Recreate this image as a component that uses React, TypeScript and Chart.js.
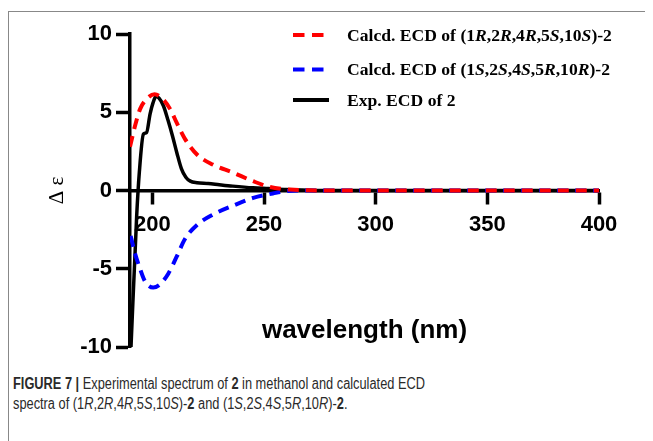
import React, { useEffect, useRef } from "react";
import { Chart, registerables } from "chart.js";

Chart.register(...registerables);

// ---- Data ----
const calcRWavelength = [190, 192.2, 194.5, 197.5, 201, 205, 208, 211, 214.6, 220, 227, 236, 245, 252.7, 261.6, 270, 280, 400];
const calcRValues = [2.8, 4.1, 5.2, 5.85, 6.15, 5.8, 5.2, 4.3, 3.3, 2.3, 1.66, 1.15, 0.6, 0.22, 0.06, 0.01, 0, 0];

const calcSWavelength = [190.3, 192.2, 194.5, 196.7, 200.4, 203.4, 207.2, 211, 214.6, 220, 227.3, 236.3, 245.2, 254, 260, 270, 400];
const calcSValues = [-2.9, -4.0, -5.0, -5.8, -6.2, -6.0, -5.3, -4.2, -3.1, -2.2, -1.53, -0.96, -0.47, -0.19, -0.04, 0, 0];

const expWavelength = [190.45, 193.0, 194.2, 196.0, 197.4, 199.0, 200.3, 201.6, 203, 205, 207, 209, 211, 213, 215, 217, 220, 225, 230, 236, 245, 252, 260, 270, 280, 400];
const expValues = [-10, -1.6, 1.2, 3.6, 3.7, 4.9, 5.6, 6.0, 5.9, 5.4, 4.5, 3.5, 2.4, 1.4, 0.85, 0.6, 0.5, 0.45, 0.37, 0.28, 0.17, 0.12, 0.06, 0.02, 0, 0];

const xTickValues = [200, 250, 300, 350, 400];
const yTickValues = [-10, -5, 0, 5, 10];

const legendLabels = [
  [["Calcd. ECD of (1", false], ["R", true], [",2", false], ["R", true], [",4", false], ["R", true], [",5", false], ["S", true], [",10", false], ["S", true], [")-2", false]],
  [["Calcd. ECD of (1", false], ["S", true], [",2", false], ["S", true], [",4", false], ["S", true], [",5", false], ["R", true], [",10", false], ["R", true], [")-2", false]],
  [["Exp. ECD of 2", false]],
] as [string, boolean][][];

const seriesColors = ["#ff0000", "#0000ff", "#000000"];
const seriesDashed = [true, true, false];

const toPoints = (xs: number[], ys: number[]) => xs.map((x, i) => ({ x, y: ys[i] }));

const SANS = "'Liberation Sans', Arial, Helvetica, sans-serif";
const SERIF = "'Liberation Serif', 'Times New Roman', Times, serif";

const overlayPlugin = {
  id: "overlay",
  afterDraw(chart: any) {
    const ctx = chart.ctx as CanvasRenderingContext2D;
    const area = chart.chartArea;
    ctx.save();
    // x axis title
    ctx.fillStyle = "#000";
    ctx.font = `bold 26px ${SANS}`;
    ctx.textAlign = "center";
    ctx.textBaseline = "middle";
    ctx.fillText("wavelength (nm)", (area.left + area.right) / 2, 323);

    // legend
    const rowY = [27, 61.5, 92];
    const lineX0 = 285;
    const lineX1 = 321;
    const textX = 339;
    legendLabels.forEach((segs, i) => {
      const y = rowY[i];
      ctx.beginPath();
      ctx.strokeStyle = seriesColors[i];
      ctx.lineWidth = 4;
      ctx.lineCap = "butt";
      ctx.setLineDash(seriesDashed[i] ? [11.5, 7.5] : []);
      ctx.moveTo(lineX0, y);
      ctx.lineTo(lineX1, y);
      ctx.stroke();
      ctx.setLineDash([]);
      let x = textX;
      ctx.textAlign = "left";
      ctx.textBaseline = "middle";
      ctx.fillStyle = "#000";
      segs.forEach(([t, it]) => {
        ctx.font = `${it ? "italic " : ""}bold 17.6px ${SERIF}`;
        ctx.fillText(t, x, y + 1);
        x += ctx.measureText(t).width;
      });
    });
    ctx.restore();
  },
};

export default function App() {
  const ref = useRef<HTMLCanvasElement>(null);

  useEffect(() => {
    document.body.style.overflow = "hidden";
    const canvas = ref.current!;
    const datasets = [
      { data: toPoints(calcRWavelength, calcRValues), borderDash: [11, 7], borderWidth: 4, order: 0 },
      { data: toPoints(calcSWavelength, calcSValues), borderDash: [11, 7], borderWidth: 4, order: 1 },
      { data: toPoints(expWavelength, expValues), borderDash: [], borderWidth: 3.5, order: 2 },
    ].map((d, i) => ({
      ...d,
      label: legendLabels[i].map((s) => s[0]).join(""),
      borderColor: seriesColors[i],
      backgroundColor: seriesColors[i],
      pointRadius: 0,
      fill: false,
      cubicInterpolationMode: "monotone" as const,
    }));

    const chart = new Chart(canvas, {
      type: "line",
      data: { datasets },
      options: {
        animation: false,
        responsive: false,
        devicePixelRatio: 1,
        layout: { padding: { left: 0, top: 26, right: 54, bottom: 26 } },
        plugins: { legend: { display: false }, tooltip: { enabled: false } },
        scales: {
          x: {
            type: "linear",
            position: { y: 0 } as any,
            min: 190,
            max: 400,
            afterBuildTicks: (s: any) => {
              s.ticks = xTickValues.map((v) => ({ value: v }));
            },
            grid: { drawOnChartArea: false, drawTicks: true, tickLength: 12, tickWidth: 3.5, tickColor: "#000" },
            border: { display: true, color: "#000", width: 3.5 },
            ticks: { color: "#000", font: { family: SANS, size: 22, weight: "bold" }, padding: 9, maxRotation: 0 },
          },
          y: {
            type: "linear",
            min: -10,
            max: 10,
            afterBuildTicks: (s: any) => {
              s.ticks = yTickValues.map((v) => ({ value: v }));
            },
            afterFit: (s: any) => {
              s.width = 122;
            },
            grid: { drawOnChartArea: false, drawTicks: true, tickLength: 14, tickWidth: 3.5, tickColor: "#000" },
            border: { display: true, color: "#000", width: 3.5 },
            ticks: { color: "#000", font: { family: SANS, size: 22, weight: "bold" }, padding: 4 },
            title: {
              display: true,
              text: "Δ ε",
              color: "#000",
              font: { family: SERIF, size: 21, weight: "normal" },
              padding: { top: 37, bottom: 0 },
            },
          },
        },
      },
      plugins: [overlayPlugin],
    });
    return () => chart.destroy();
  }, []);

  return (
    <div style={{ position: "relative", width: 645, height: 433, overflow: "hidden" }}>
      <div
        style={{
          position: "absolute",
          left: 0,
          top: 3,
          width: 800,
          height: 800,
          borderLeft: "1.5px solid #888",
          borderTop: "1.5px solid #888",
        }}
      />
      <canvas ref={ref} width={645} height={365} style={{ position: "absolute", left: 0, top: 0, width: 645, height: 365 }} />
      <div
        style={{
          position: "absolute",
          left: 5,
          top: 366,
          width: 800,
          transform: "scaleX(0.8)",
          transformOrigin: "0 0",
          fontFamily: "'Liberation Sans', Arial, sans-serif",
          fontSize: 16,
          lineHeight: "20px",
          color: "#2a2a2a",
        }}
      >
        <div>
          <b>FIGURE 7 |</b> Experimental spectrum of <b>2</b> in methanol and calculated ECD
        </div>
        <div>
          spectra of (1<i>R</i>,2<i>R</i>,4<i>R</i>,5<i>S</i>,10<i>S</i>)-<b>2</b> and (1<i>S</i>,2<i>S</i>,4<i>S</i>,5<i>R</i>,10<i>R</i>)-<b>2</b>.
        </div>
      </div>
    </div>
  );
}
